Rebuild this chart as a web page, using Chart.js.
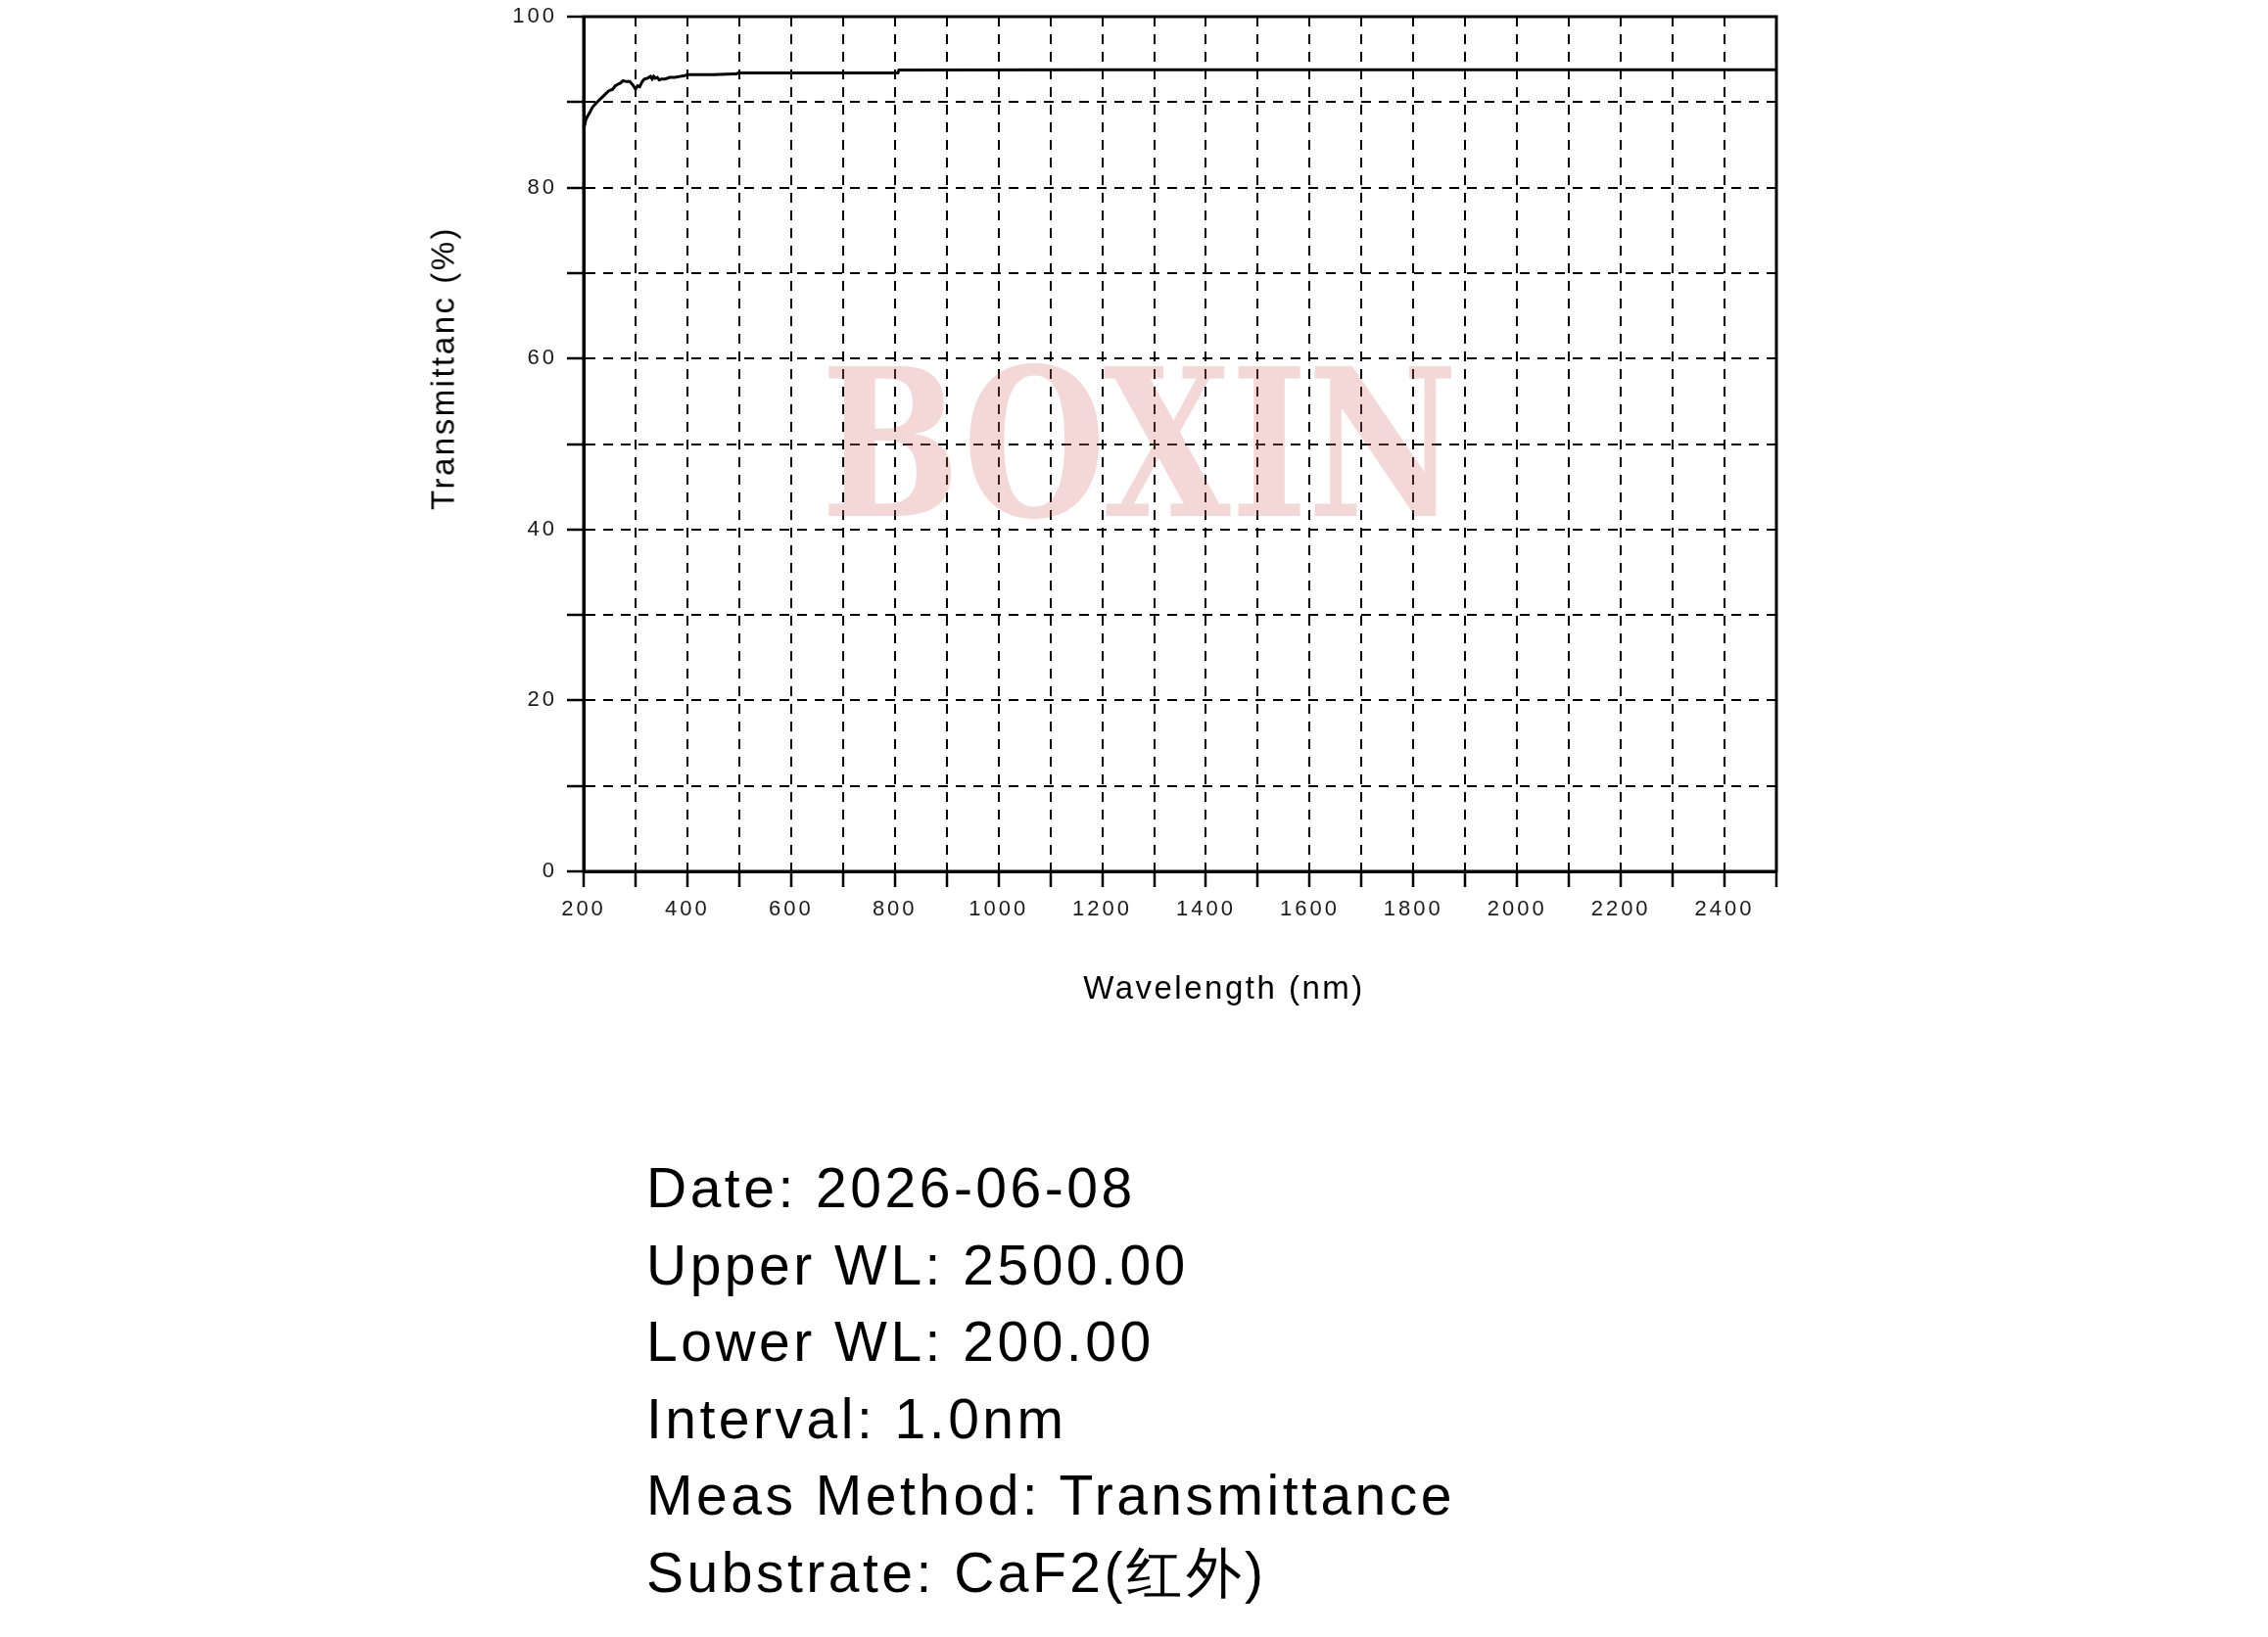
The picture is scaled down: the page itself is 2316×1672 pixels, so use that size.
<!DOCTYPE html>
<html>
<head>
<meta charset="utf-8">
<script src="https://cdn.jsdelivr.net/npm/chart.js@4.4.1/dist/chart.umd.min.js"></script>
<style>
  body { margin: 0; background: #fff; width: 2316px; height: 1672px; position: relative; overflow: hidden; }
  #chart { position: absolute; left: 0; top: 0; }
  .axis-title { position: absolute; font-family: "Liberation Sans", Arial, sans-serif; font-size: 33px; letter-spacing: 2.5px; line-height: 1; white-space: nowrap; color: #000; }
  #xTitle { left: 1250px; top: 992px; transform: translateX(-50%); }
  #yTitle { left: 452px; top: 376px; transform: translate(-50%, -50%) rotate(-90deg); }
  #info { position: absolute; left: 660px; top: 1174px; font-family: "Liberation Sans", Arial, sans-serif; font-size: 57px; letter-spacing: 3.5px; line-height: 78.5px; color: #000; white-space: nowrap; }
</style>
</head>
<body>
<canvas id="chart" width="2316" height="1100"></canvas>
<div class="axis-title" id="xTitle">Wavelength (nm)</div>
<div class="axis-title" id="yTitle">Transmittanc (%)</div>
<div id="info"></div>

<script>
// spectrum (nm, %T)
const wavelengths = [200, 202, 204, 207, 211, 217, 226, 236, 248, 256, 261, 266, 270, 276, 283, 289, 295, 300, 304, 308, 313, 317, 323, 329, 332, 335, 338, 342, 346, 350, 357, 366, 376, 385, 395, 401, 450, 489, 494, 498, 650, 806, 808, 1200, 1800, 2500];
const transmittance = [86.9, 87.3, 87.9, 88.3, 88.7, 89.4, 90.0, 90.6, 91.3, 91.5, 91.9, 92.1, 92.2, 92.5, 92.4, 92.4, 92.0, 91.5, 91.9, 91.8, 92.4, 92.7, 92.8, 93.0, 92.7, 93.0, 92.8, 92.9, 92.6, 92.7, 92.7, 92.9, 92.9, 93.0, 93.1, 93.2, 93.2, 93.3, 93.3, 93.4, 93.4, 93.4, 93.75, 93.8, 93.8, 93.8];

const xTickLabels = [200, 400, 600, 800, 1000, 1200, 1400, 1600, 1800, 2000, 2200, 2400];
const yTickLabels = [0, 20, 40, 60, 80, 100];

const infoLines = [
    'Date: 2026-06-08',
    'Upper WL: 2500.00',
    'Lower WL: 200.00',
    'Interval: 1.0nm',
    'Meas Method: Transmittance',
    'Substrate: CaF2(红外)'
];

document.getElementById('info').innerHTML = infoLines.map(l => '<div>' + l + '</div>').join('');

const points = wavelengths.map((w, i) => ({ x: w, y: transmittance[i] }));

// letter spacing for tick labels, frame box, and the pink watermark
const framePlugin = {
    id: 'frame',
    beforeDraw(chart) {
        chart.ctx.letterSpacing = '3px';
    },
    afterDatasetsDraw(chart) {
        const { ctx, chartArea } = chart;
        ctx.save();
        ctx.letterSpacing = '0px';
        ctx.font = 'bold 200px "DejaVu Serif"';
        const text = 'BOXIN';
        const m = ctx.measureText(text);
        const w = m.actualBoundingBoxLeft + m.actualBoundingBoxRight;
        const h = m.actualBoundingBoxAscent;
        ctx.translate(846, 527);
        ctx.scale(636 / w, 157 / h);
        ctx.fillStyle = 'rgba(215, 110, 110, 0.28)';
        ctx.textBaseline = 'alphabetic';
        ctx.fillText(text, m.actualBoundingBoxLeft, 0);
        ctx.restore();

        ctx.save();
        ctx.strokeStyle = '#000';
        ctx.lineWidth = 3;
        ctx.strokeRect(chartArea.left, chartArea.top, chartArea.right - chartArea.left, chartArea.bottom - chartArea.top);
        ctx.restore();
    },
    afterDraw(chart) {
        chart.ctx.letterSpacing = '0px';
    }
};

const ctx = document.getElementById('chart').getContext('2d');
const chart = new Chart(ctx, {
    type: 'line',
    data: {
        datasets: [{
            data: points,
            borderColor: '#000',
            borderWidth: 3,
            pointRadius: 0,
            tension: 0,
            fill: false
        }]
    },
    options: {
        responsive: false,
        animation: false,
        devicePixelRatio: 1,
        layout: {
            padding: { left: 486, top: 17, right: 502, bottom: 150 }
        },
        plugins: {
            legend: { display: false },
            tooltip: { enabled: false }
        },
        scales: {
            x: {
                type: 'linear',
                min: 200,
                max: 2500,
                afterFit: s => { s.height = 60; },
                ticks: {
                    stepSize: 100,
                    autoSkip: false,
                    maxRotation: 0,
                    padding: 10,
                    color: '#1a1a1a',
                    font: { family: '"Liberation Sans", Arial', size: 22 },
                    callback: v => xTickLabels.includes(v) ? String(v) : ''
                },
                grid: {
                    color: '#000',
                    lineWidth: 2,
                    tickLength: 16,
                    tickColor: '#000',
                    tickWidth: 2.5
                },
                border: { color: '#000', width: 3, dash: [10, 8] }
            },
            y: {
                min: 0,
                max: 100,
                afterFit: s => { s.width = 110; s.paddingTop = 0; s.paddingBottom = 0; },
                ticks: {
                    stepSize: 10,
                    padding: 10,
                    color: '#1a1a1a',
                    font: { family: '"Liberation Sans", Arial', size: 22 },
                    callback: v => yTickLabels.includes(v) ? String(v) : ''
                },
                grid: {
                    color: '#000',
                    lineWidth: 2,
                    tickLength: 17,
                    tickColor: '#000',
                    tickWidth: 2.5
                },
                border: { color: '#000', width: 3, dash: [10, 8] }
            }
        }
    },
    plugins: [framePlugin]
});
</script>
</body>
</html>
